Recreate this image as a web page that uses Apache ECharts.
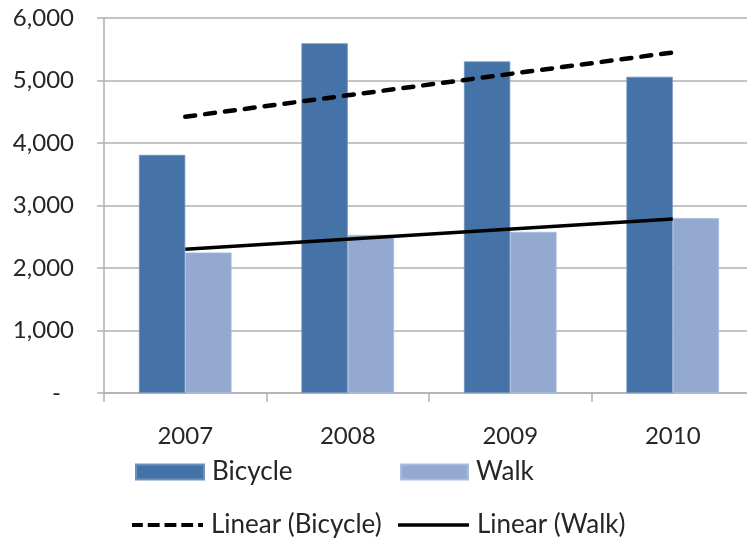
<!DOCTYPE html>
<html>
<head>
<meta charset="utf-8">
<script src="https://cdn.jsdelivr.net/npm/echarts@6/dist/echarts.min.js"></script>
<style>
html,body{margin:0;padding:0;background:#fff;}
#chart{width:747px;height:538px;}
</style>
</head>
<body>
<div id="chart"></div>
<script>
const categories = ['2007', '2008', '2009', '2010'];
const bicycle = [3810, 5595, 5305, 5060];
const walk = [2248, 2530, 2578, 2800];
const bicycleTrend = [4420, null, null, 5448];
const walkTrend = [2300, null, null, 2785];

const FONT = 'Lato';
const TEXT = '#262626';
const GRID = '#B0B0B0';

const DASH_ICON = 'path://M0,0 h11 v4 h-11 Z M16,0 h12 v4 h-12 Z M33,0 h12 v4 h-12 Z M50,0 h12 v4 h-12 Z M67,0 h5 v4 h-5 Z';

const chart = echarts.init(document.getElementById('chart'));
const legendText = { fontFamily: FONT, fontSize: 26, color: TEXT, padding: [0, 0, 0, 3] };
chart.setOption({
  animation: false,
  backgroundColor: '#ffffff',
  grid: { left: 104, top: 18, width: 650, height: 375, containLabel: false, outerBoundsMode: 'none' },
  legend: [
    { data: ['Bicycle'], left: 135, top: 459, padding: 0, itemWidth: 68, itemHeight: 15, textStyle: legendText, icon: 'rect' },
    { data: ['Walk'], left: 400, top: 459, padding: 0, itemWidth: 67, itemHeight: 15, textStyle: legendText, icon: 'rect' },
    { data: ['Linear (Bicycle)'], left: 132, top: 512, padding: 0, itemWidth: 71, itemHeight: 4, textStyle: legendText, icon: DASH_ICON },
    { data: ['Linear (Walk)'], left: 398, top: 512, padding: 0, itemWidth: 71, itemHeight: 3.5, textStyle: legendText, icon: 'rect' }
  ],
  xAxis: {
    type: 'category',
    data: categories,
    axisLine: { show: true, lineStyle: { color: GRID, width: 1.5 } },
    axisTick: { show: true, length: 9, lineStyle: { color: GRID, width: 1.5 } },
    axisLabel: { fontFamily: FONT, fontSize: 24, color: TEXT, margin: 31 }
  },
  yAxis: {
    type: 'value',
    min: 0, max: 6000, interval: 1000,
    axisLine: { show: true, lineStyle: { color: GRID, width: 1.5 } },
    axisTick: { show: true, length: 7, lineStyle: { color: GRID, width: 1.5 } },
    splitLine: { show: true, lineStyle: { color: GRID, width: 1.5 } },
    axisLabel: {
      fontFamily: FONT, fontSize: 24, color: TEXT, margin: 30,
      formatter: function (v) {
        if (v === 0) return '{d|-}';
        return v.toLocaleString('en-US');
      },
      rich: { d: { fontFamily: FONT, fontSize: 24, color: TEXT, padding: [0, 13, 0, 0] } }
    }
  },
  series: [
    {
      name: 'Bicycle', type: 'bar', data: bicycle,
      barGap: '0%', barCategoryGap: '43%',
      itemStyle: { color: '#4572A7', borderColor: '#6E90BE', borderWidth: 0.8 }
    },
    {
      name: 'Walk', type: 'bar', data: walk,
      barGap: '0%', barCategoryGap: '43%',
      itemStyle: { color: '#93A9CF', borderColor: '#A9BCDC', borderWidth: 0.8 }
    },
    {
      name: 'Linear (Bicycle)', type: 'line', data: bicycleTrend,
      connectNulls: true, symbol: 'none',
      itemStyle: { color: '#000' },
      lineStyle: { color: '#000', width: 4.5, type: [10, 10], cap: 'round' }
    },
    {
      name: 'Linear (Walk)', type: 'line', data: walkTrend,
      connectNulls: true, symbol: 'none',
      itemStyle: { color: '#000' },
      lineStyle: { color: '#000', width: 3.5 }
    }
  ]
});
</script>
</body>
</html>
